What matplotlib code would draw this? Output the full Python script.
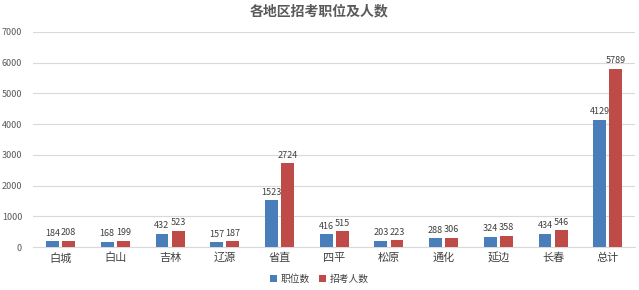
import matplotlib.pyplot as plt
import numpy as np

plt.rcParams['font.family'] = ['Noto Sans CJK SC', 'DejaVu Sans']

regions = ['白城', '白山', '吉林', '辽源', '省直', '四平', '松原', '通化', '延边', '长春', '总计']
posts = [184, 168, 432, 157, 1523, 416, 203, 288, 324, 434, 4129]
people = [208, 199, 523, 187, 2724, 515, 223, 306, 358, 546, 5789]

x = np.arange(len(regions))
w = 0.235
off = 0.148

fig = plt.figure(figsize=(6.39, 2.90), dpi=100)
ax = fig.add_axes([0.052, 0.148, 0.942, 0.742])

b1 = ax.bar(x - off, posts, w, color='#4A7EBB', label='职位数', zorder=3)
b2 = ax.bar(x + off, people, w, color='#BE4B48', label='招考人数', zorder=3)

for bars in (b1, b2):
    for r in bars:
        h = r.get_height()
        ax.text(r.get_x() + r.get_width() / 2, h + 120, str(h),
                ha='center', va='bottom', fontsize=6.5, color='#404040')

ax.set_ylim(0, 7000)
ax.set_yticks(range(0, 7001, 1000))
ax.set_xlim(-0.5, len(regions) - 0.5)
ax.set_xticks(x)
ax.set_xticklabels(regions, fontsize=8, color='#404040')
ax.tick_params(axis='y', labelsize=6.5, colors='#595959', length=0, pad=8)
ax.tick_params(axis='x', length=0, pad=4)
ax.grid(axis='y', color='#D9D9D9', linewidth=0.8, zorder=0)
for s in ['top', 'right', 'left']:
    ax.spines[s].set_visible(False)
ax.spines['bottom'].set_color('#D9D9D9')

fig.suptitle('各地区招考职位及人数', x=0.5, y=0.985, fontsize=10, fontweight='bold', color='#595959')
fig.legend(loc='lower center', bbox_to_anchor=(0.5, -0.01), ncol=2, frameon=False,
           fontsize=7, handlelength=0.7, handleheight=0.7, columnspacing=1.0, handletextpad=0.4,
           labelcolor='#404040')

fig.savefig('out.png', dpi=100)
